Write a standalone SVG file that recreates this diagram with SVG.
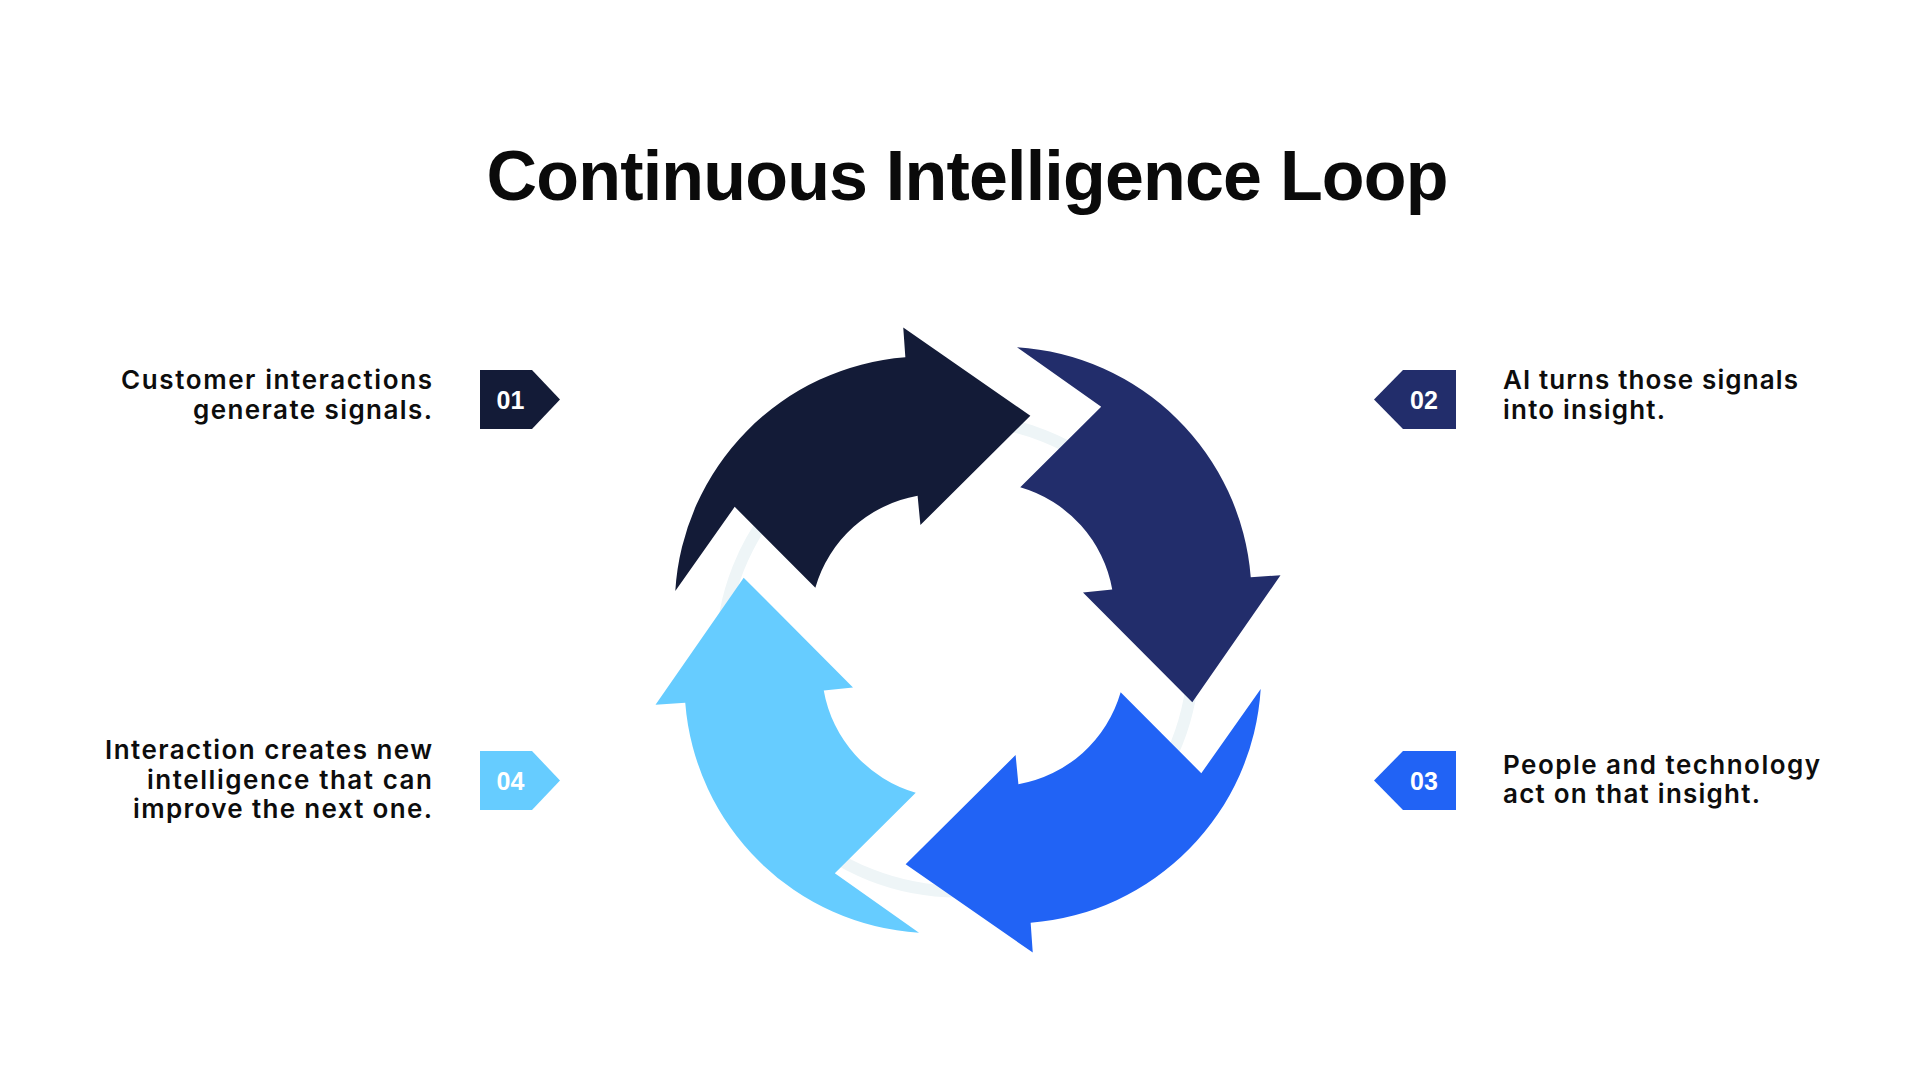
<svg xmlns="http://www.w3.org/2000/svg" xmlns:xlink="http://www.w3.org/1999/xlink" width="1920" height="1080" viewBox="0 0 1920 1080">
  <defs>
    <style>
      .title { font-family: "Liberation Sans", Arial, Helvetica, sans-serif; font-weight: 700; font-size: 70px; fill: #0A0A0A; }
      .body { font-family: Inter, "Noto Sans", sans-serif; font-weight: 600; font-size: 26px; fill: #0D0D0D; }
      .num { font-family: "Liberation Sans", Arial, sans-serif; font-weight: 700; font-size: 25px; fill: #FFFFFF; text-anchor: middle; }
      .c1 { fill: #131B37; }
      .c2 { fill: #222D6B; }
      .c3 { fill: #2163F5; }
      .c4 { fill: #66CCFF; }
    </style>
    <path id="arrow" d="M -292.7 -49 A 250 250 0 0 1 -62.65 -282.75 L -64.75 -312.5 L 62.35 -224.3 L -47.6 -115 L -50.4 -144.25 A 130 130 0 0 0 -152.65 -52.25 L -233.3 -133.2 Z"/>
  </defs>
  <rect width="1920" height="1080" fill="#FFFFFF"/>

  <text id="title" class="title" x="967.5" y="200" text-anchor="middle" textLength="962" lengthAdjust="spacing">Continuous Intelligence Loop</text>

  <g id="connectors">
    <circle cx="957.6" cy="655.5" r="236" fill="none" stroke="#EEF5F7" stroke-width="12"/>
    <use id="arrow-1" xlink:href="#arrow" href="#arrow" class="c1" transform="translate(968 640)"/>
    <use id="arrow-2" xlink:href="#arrow" href="#arrow" class="c2" transform="translate(968 640) rotate(90)"/>
    <use id="arrow-3" xlink:href="#arrow" href="#arrow" class="c3" transform="translate(968 640) rotate(180)"/>
    <use id="arrow-4" xlink:href="#arrow" href="#arrow" class="c4" transform="translate(968 640) rotate(270)"/>
  </g>

  <g id="step-01">
    <path class="c1" d="M480 370 H532 L560 399.5 L532 429 H480 Z"/>
    <text class="num" x="510.5" y="408.5">01</text>
    <text class="body">
      <tspan x="121" y="389" textLength="311" lengthAdjust="spacing">Customer interactions</tspan>
      <tspan x="193" y="418.5" textLength="239" lengthAdjust="spacing">generate signals.</tspan>
    </text>
  </g>

  <g id="step-02">
    <path class="c2" d="M1456 370 H1403 L1374 399.5 L1403 429 H1456 Z"/>
    <text class="num" x="1424" y="408.5">02</text>
    <text class="body">
      <tspan x="1503" y="389" textLength="295" lengthAdjust="spacing">AI turns those signals</tspan>
      <tspan x="1503" y="418.5" textLength="162" lengthAdjust="spacing">into insight.</tspan>
    </text>
  </g>

  <g id="step-03">
    <path class="c3" d="M1456 751 H1403 L1374 780.5 L1403 810 H1456 Z"/>
    <text class="num" x="1424" y="789.5">03</text>
    <text class="body">
      <tspan x="1503" y="774" textLength="317" lengthAdjust="spacing">People and technology</tspan>
      <tspan x="1503" y="803" textLength="257" lengthAdjust="spacing">act on that insight.</tspan>
    </text>
  </g>

  <g id="step-04">
    <path class="c4" d="M480 751 H532 L560 780.5 L532 810 H480 Z"/>
    <text class="num" x="510.5" y="789.5">04</text>
    <text class="body">
      <tspan x="105" y="759" textLength="327" lengthAdjust="spacing">Interaction creates new</tspan>
      <tspan x="147" y="788.5" textLength="285" lengthAdjust="spacing">intelligence that can</tspan>
      <tspan x="133" y="818" textLength="299" lengthAdjust="spacing">improve the next one.</tspan>
    </text>
  </g>
</svg>
